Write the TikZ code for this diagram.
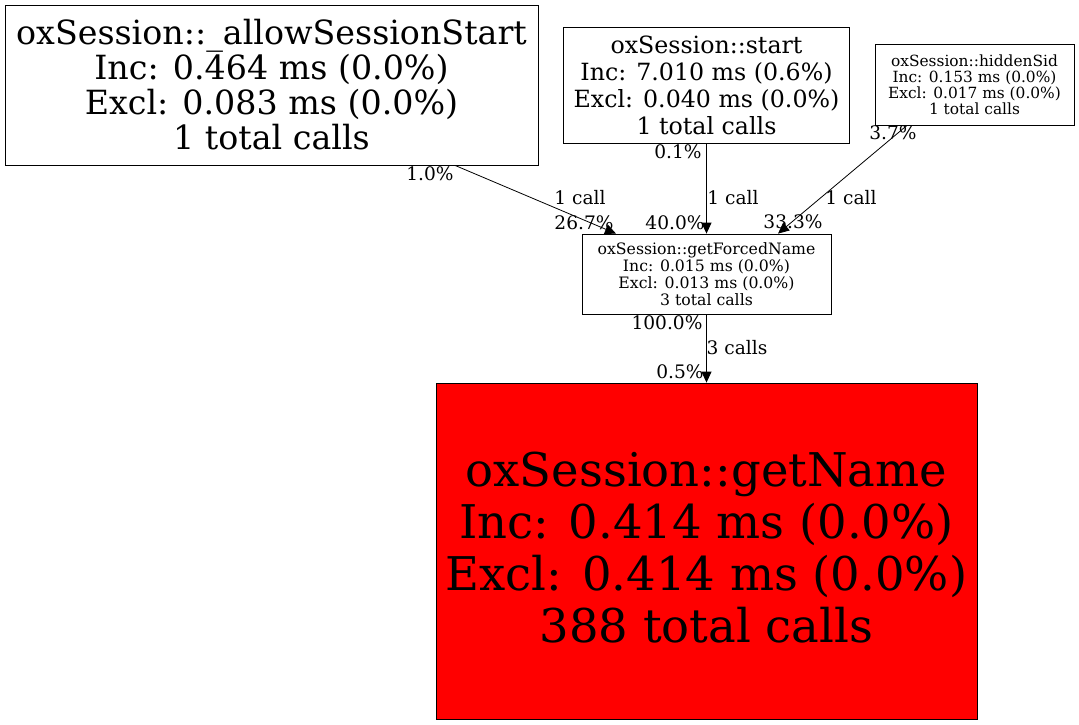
\documentclass[tikz,border=0pt]{standalone}
\usepackage{fontspec}
\setmainfont{DejaVu Serif}
\usetikzlibrary{arrows.meta,calc}
\begin{document}
\begin{tikzpicture}[x=1pt,y=-1pt,
  fn/.style={draw=black,line width=0.8pt,inner sep=0pt,align=center,anchor=center},
  edge/.style={draw=black,line width=0.8pt,-{Triangle[length=11pt,width=10pt]}},
  lbl/.style={inner sep=0pt,font=\fontsize{18.6}{20}\selectfont,anchor=center}]
\useasboundingbox (0,0) rectangle (1079,725);
\node[fn,minimum width=533pt,minimum height=160pt,font=\fontsize{33.3}{35}\selectfont] (A) at (271.5,85)
  {oxSession::\_allowSessionStart\\Inc: 0.464 ms (0.0\%)\\Excl: 0.083 ms (0.0\%)\\1 total calls};
\node[fn,minimum width=286pt,minimum height=116pt,font=\fontsize{23.7}{27}\selectfont] (B) at (706.5,85)
  {oxSession::start\\Inc: 7.010 ms (0.6\%)\\Excl: 0.040 ms (0.0\%)\\1 total calls};
\node[fn,minimum width=199pt,minimum height=81pt,font=\fontsize{15.4}{16}\selectfont] (C) at (974.5,84.5)
  {oxSession::hiddenSid\\Inc: 0.153 ms (0.0\%)\\Excl: 0.017 ms (0.0\%)\\1 total calls};
\node[fn,minimum width=249pt,minimum height=80pt,font=\fontsize{15.7}{17}\selectfont] (D) at (706.5,274)
  {oxSession::getForcedName\\Inc: 0.015 ms (0.0\%)\\Excl: 0.013 ms (0.0\%)\\3 total calls};
\node[fn,fill=red,minimum width=541pt,minimum height=336pt,font=\fontsize{46.5}{52}\selectfont] (E) at (706.5,551)
  {oxSession::getName\\Inc: 0.414 ms (0.0\%)\\Excl: 0.414 ms (0.0\%)\\388 total calls\\[-44pt]};
\draw[edge] ([xshift=183.5pt]A.south) -- ([xshift=-90.5pt]D.north);
\draw[edge] (B.south) -- (D.north);
\draw[edge] ([xshift=-67.5pt]C.south) -- ([xshift=71.5pt]D.north);
\draw[edge] (D.south) -- (E.north);
\node[lbl] (l1) at (430,174) {1.0\%};
\node[lbl] (l2) at (580,198) {1 call};
\node[lbl] (l3) at (584,223) {26.7\%};
\node[lbl] (l4) at (678,152) {0.1\%};
\node[lbl] (l5) at (733,198) {1 call};
\node[lbl] (l6) at (675,223) {40.0\%};
\node[lbl] (l7) at (893,133) {3.7\%};
\node[lbl] (l8) at (851,198) {1 call};
\node[lbl] (l9) at (793,222) {33.3\%};
\node[lbl] (l10) at (667,323) {100.0\%};
\node[lbl] (l11) at (737,348) {3 calls};
\node[lbl] (l12) at (680,372) {0.5\%};
\end{tikzpicture}
\end{document}
